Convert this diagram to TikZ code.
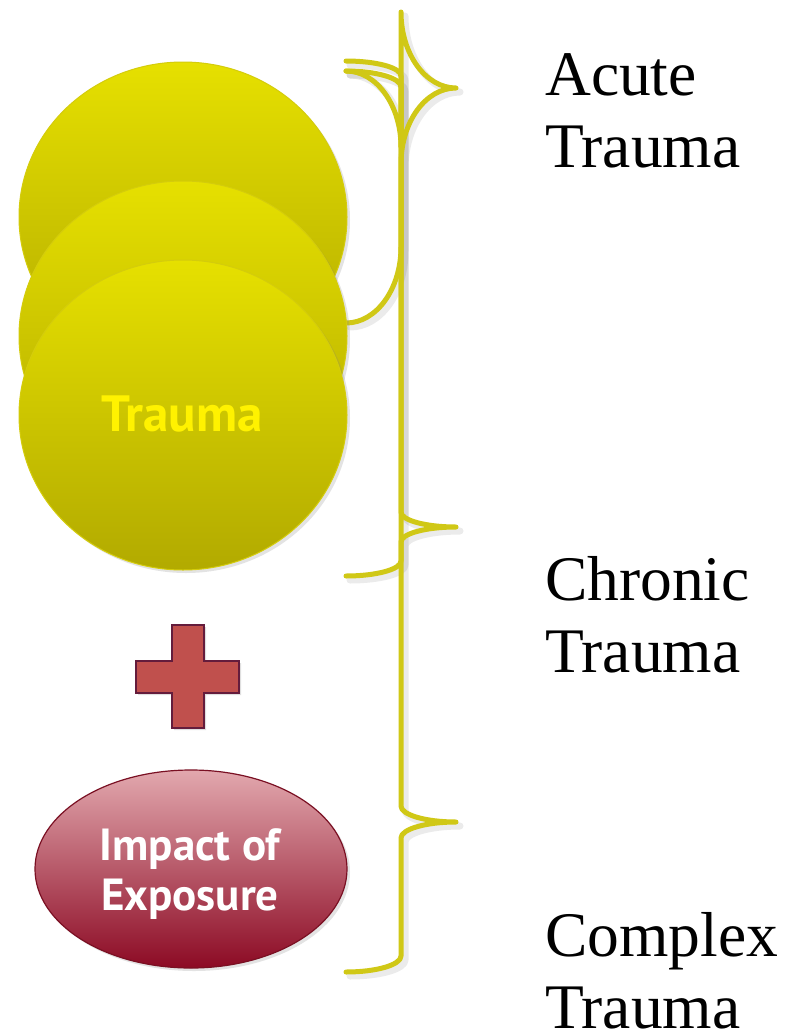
\documentclass[tikz,border=0pt]{standalone}
\usepackage{fontspec}
\setmainfont{Liberation Serif}
\newfontfamily\ptsans{PT Sans}
\usetikzlibrary{shapes.geometric,shadows}
\definecolor{braceY}{RGB}{208,200,22}
\definecolor{circTop}{RGB}{230,224,0}
\definecolor{circBot}{RGB}{178,170,0}
\definecolor{circLine}{RGB}{212,204,12}
\definecolor{crossFill}{RGB}{192,80,77}
\definecolor{crossLine}{RGB}{100,28,60}
\definecolor{impTop}{RGB}{226,168,174}
\definecolor{impBot}{RGB}{140,10,36}
\definecolor{impLine}{RGB}{122,16,35}
\newcommand{\traumabrace}[5]{%
  \draw[#1] (346,#2) .. controls (376.4,#2) and (401,{#2+0.4477*#5}) .. (401,{#2+#5})
    -- (401,{#3-#5}) .. controls (401,{#3-0.4477*#5}) and (425.6,#3) .. (456,#3)
    .. controls (425.6,#3) and (401,{#3+0.4477*#5}) .. (401,{#3+#5})
    -- (401,{#4-#5}) .. controls (401,{#4-0.4477*#5}) and (376.4,#4) .. (346,#4);}
\begin{document}
\begin{tikzpicture}[x=1pt,y=-1pt,
  bracestyle/.style={draw=braceY, line width=5pt, line cap=round, line join=round},
  braceshadow/.style={draw=black, opacity=0.08, line width=7pt, line cap=round, line join=round, xshift=4pt, yshift=-4pt},
  traumadisc/.style={ellipse, minimum width=328pt, minimum height=310pt, inner sep=0pt,
    top color=circTop, bottom color=circBot, draw=circLine, line width=1pt,
    drop shadow={shadow xshift=3pt, shadow yshift=-3pt, opacity=0.22}},
  sidetext/.style={anchor=base west, inner sep=0pt, align=left, font=\fontsize{63.5}{72}\selectfont}
]
\useasboundingbox (0,0) rectangle (794,1034);
\fill[white] (0,0) rectangle (794,1034);

% brace shadows
\traumabrace{braceshadow}{71}{88}{323}{76}
\traumabrace{braceshadow}{61}{527}{576}{15}
\traumabrace{braceshadow}{71}{822}{972}{16}
% braces
\traumabrace{bracestyle}{71}{88}{323}{76}
\traumabrace{bracestyle}{61}{527}{576}{15}
\traumabrace{bracestyle}{71}{822}{972}{16}

% stacked trauma discs
\node[traumadisc] (disc1) at (183,217) {};
\node[traumadisc] (disc2) at (183,336) {};
\node[traumadisc] (disc3) at (183,415) {};
\node[anchor=base, inner sep=0pt, text=yellow, font=\ptsans\bfseries\fontsize{51}{60}\selectfont] (trauma) at (182,431) {Trauma};

% plus sign
\filldraw[fill=crossFill, draw=crossLine, line width=1.2pt,
  drop shadow={shadow xshift=2pt, shadow yshift=-2pt, opacity=0.25}]
  (172,625) -- (204,625) -- (204,661) -- (239,661) -- (239,693) -- (204,693)
  -- (204,728) -- (172,728) -- (172,693) -- (136,693) -- (136,661) -- (172,661) -- cycle;

% impact ellipse
\node[ellipse, minimum width=312pt, minimum height=198pt, inner sep=0pt,
  top color=impTop, bottom color=impBot, draw=impLine, line width=1.2pt,
  drop shadow={shadow xshift=3pt, shadow yshift=-3pt, opacity=0.22}] (impact) at (191,869) {};
\node[anchor=base, inner sep=0pt, align=center, text=white,
  font=\ptsans\bfseries\fontsize{45}{50}\selectfont] (impacttext) at (190,910) {Impact of\\Exposure};

% labels
\node[sidetext] (acute) at (545,167) {Acute\\Trauma};
\node[sidetext] (chronic) at (545,672) {Chronic\\Trauma};
\node[sidetext] (complex) at (545,1028) {Complex\\Trauma};
\end{tikzpicture}
\end{document}
